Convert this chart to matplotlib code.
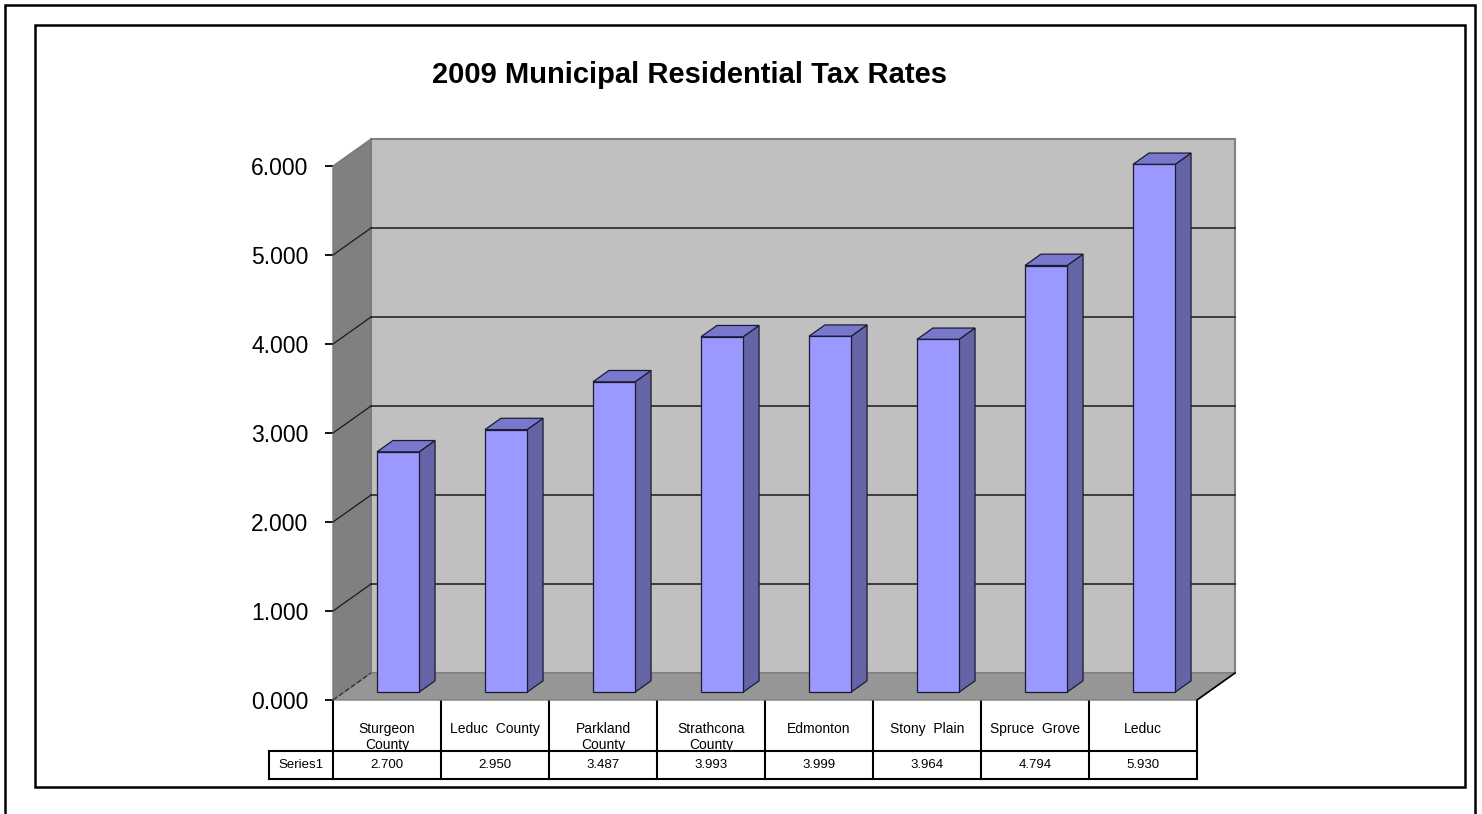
import numpy as np
import matplotlib
matplotlib.use("Agg")
import matplotlib.pyplot as plt
import matplotlib.transforms as mtransforms
from matplotlib.patches import Polygon, Rectangle
from matplotlib.lines import Line2D

# 2009 residential mill rates by municipality
categories = ["Sturgeon\nCounty", "Leduc  County", "Parkland\nCounty", "Strathcona\nCounty",
              "Edmonton", "Stony  Plain", "Spruce  Grove", "Leduc"]
values = [2.700, 2.950, 3.487, 3.993, 3.999, 3.964, 4.794, 5.930]
series_name = "Series1"
yticks = [0, 1, 2, 3, 4, 5, 6]
title = "2009 Municipal Residential Tax Rates"

W, H = 1482, 814
DPI = 100
plt.rcParams['font.family'] = ['Liberation Sans', 'DejaVu Sans']

fig = plt.figure(figsize=(W / DPI, H / DPI), dpi=DPI)
fig.patch.set_facecolor("white")

def fx(px):
    return px / W

def fy(py):
    return 1 - py / H

# front plane of the 3-D box
ax = fig.add_axes([fx(333), fy(700), (1197 - 333) / W, (700 - 166) / H])
ax.set_xlim(-0.5, len(values) - 0.5)
ax.set_ylim(0, 6)
ax.patch.set_visible(False)
for s in ax.spines.values():
    s.set_visible(False)
ax.set_xticks([])
ax.set_yticks(yticks)
ax.set_yticklabels(["{:.3f}".format(t) for t in yticks])
ax.tick_params(axis="y", length=5.8, width=1.3, pad=12, labelsize=16.5, colors="black")

# depth of the box in pixels (right, up)
DX, DY = 38, 27
ident = mtransforms.IdentityTransform()

def proj(x, v, d):
    px, py = ax.transData.transform((x, v))
    return (px + d * DX, py + d * DY)

def face(pts, fc, ec="none", lw=0, z=1):
    p = Polygon([proj(*p) for p in pts], closed=True, facecolor=fc, edgecolor=ec,
                linewidth=lw, transform=ident, zorder=z, clip_on=False)
    fig.add_artist(p)

def seg(a, b, color="black", lw=1, ls="-", z=2):
    (x0, y0), (x1, y1) = proj(*a), proj(*b)
    fig.add_artist(Line2D([x0, x1], [y0, y1], color=color, lw=lw, ls=ls,
                          transform=ident, zorder=z))

xl, xr = -0.5, len(values) - 0.5
ytop = yticks[-1]

# walls and floor
face([(xl, 0, 1), (xr, 0, 1), (xr, ytop, 1), (xl, ytop, 1)], "#C0C0C0", "#808080", 1.5)
face([(xl, 0, 0), (xl, ytop, 0), (xl, ytop, 1), (xl, 0, 1)], "#808080", "#7a7a7a", 1)
face([(xl, 0, 0), (xr, 0, 0), (xr, 0, 1), (xl, 0, 1)], "#969696", "#808080", 1)
seg((xr, 0, 0), (xr, 0, 1), "black", 1.2)
seg((xl, 0, 0), (xl, 0, 1), "#333333", 1.0, "--")

# gridlines on back and side walls
for t in yticks[1:-1]:
    seg((xl, t, 1), (xr, t, 1), "#1a1a1a", 1.1)
    seg((xl, t, 0), (xl, t, 1), "#1a1a1a", 0.9)

# bars
bw = 0.39
d0, d1 = 0.29, 0.71
for i, v in enumerate(values):
    x0, x1 = i - bw / 2, i + bw / 2
    face([(x1, 0, d0), (x1, v, d0), (x1, v, d1), (x1, 0, d1)], "#6464A6", "#1c1c30", 0.9, 3)
    face([(x0, v, d0), (x1, v, d0), (x1, v, d1), (x0, v, d1)], "#7878CC", "#1c1c30", 0.9, 3)
    face([(x0, 0, d0), (x1, 0, d0), (x1, v, d0), (x0, v, d0)], "#9999FF", "#1c1c30", 0.9, 4)

# data table under the chart
tbl = mtransforms.blended_transform_factory(ax.transData, ax.transAxes)
ax_h = 700 - 166
r1 = -51 / ax_h
r2 = -79 / ax_h
xs = xl - 0.593
lkw = dict(color="black", lw=1.5, transform=tbl, clip_on=False)
for k in range(len(values) + 1):
    ax.add_line(Line2D([xl + k, xl + k], [0, r2], **lkw))
ax.add_line(Line2D([xs, xr], [r1, r1], **lkw))
ax.add_line(Line2D([xs, xr], [r2, r2], **lkw))
ax.add_line(Line2D([xs, xs], [r1, r2], **lkw))

header_clip = Rectangle((xl, r1), xr - xl, -r1, transform=tbl, visible=False)
ax.add_patch(header_clip)
for i, c in enumerate(categories):
    t = ax.text(i, -22 / ax_h, c, transform=tbl, ha="center", va="top", fontsize=10,
                linespacing=1.2)
    t.set_clip_path(header_clip)
    ax.text(i, (r1 + r2) / 2, "{:.3f}".format(values[i]), transform=tbl,
            ha="center", va="center", fontsize=9.5)
ax.text((xs + xl) / 2, (r1 + r2) / 2, series_name, transform=tbl, ha="center",
        va="center", fontsize=9.5)

# title
fig.text(fx(689), fy(75), title, ha="center", va="center", fontsize=21, fontweight="bold")

# chart frames
fig.add_artist(Rectangle((fx(4.5), fy(830)), fx(1475 - 4.5), (830 - 5) / H, fill=False,
                         edgecolor="black", lw=1.8, transform=fig.transFigure))
fig.add_artist(Rectangle((fx(35), fy(787)), fx(1465 - 35), (787 - 25) / H, fill=False,
                         edgecolor="black", lw=1.8, transform=fig.transFigure))

fig.savefig("out.png", dpi=DPI)
